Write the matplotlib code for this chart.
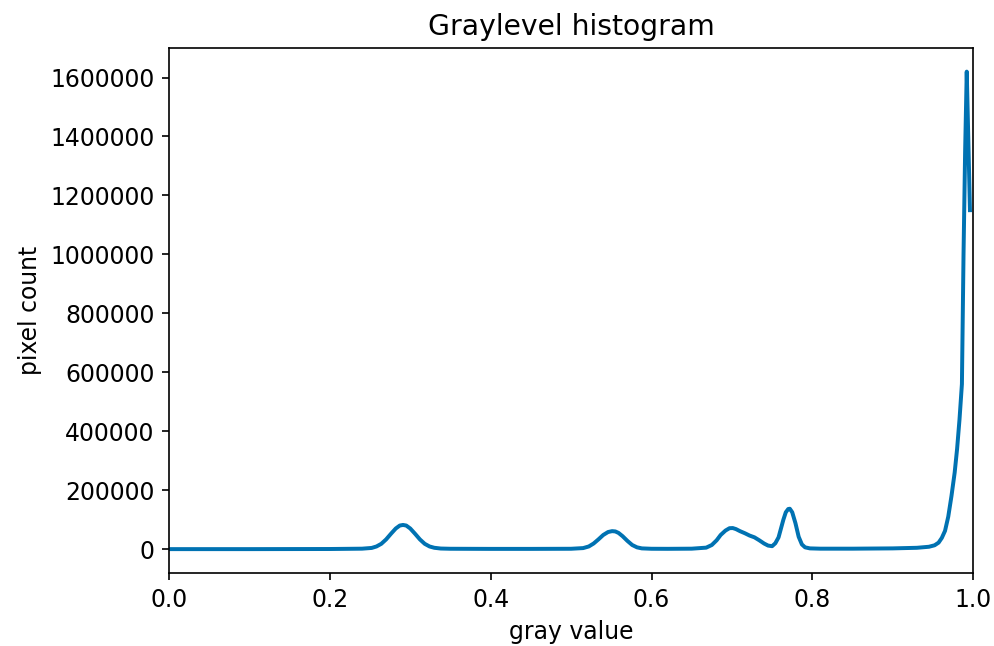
import numpy as np
import matplotlib
matplotlib.use("Agg")
import matplotlib.pyplot as plt

# gray level (bin centre) and pixel count
gray = [0.0, 0.05, 0.10, 0.15, 0.20, 0.24, 0.252, 0.258, 0.264, 0.270, 0.276, 0.282,
        0.287, 0.291, 0.295, 0.300, 0.306, 0.312, 0.318, 0.324, 0.330, 0.338, 0.35,
        0.40, 0.45, 0.50, 0.515, 0.522, 0.528, 0.534, 0.540, 0.546, 0.551, 0.555,
        0.559, 0.564, 0.570, 0.576, 0.582, 0.588, 0.60, 0.62, 0.65, 0.668, 0.675,
        0.681, 0.686, 0.692, 0.697, 0.701, 0.705, 0.710, 0.716, 0.722, 0.728, 0.734,
        0.740, 0.745, 0.750, 0.754, 0.758, 0.761, 0.764, 0.767, 0.770, 0.772, 0.775,
        0.779, 0.783, 0.787, 0.791, 0.797, 0.81, 0.85, 0.90, 0.93, 0.945, 0.952,
        0.957, 0.961, 0.965, 0.969, 0.973, 0.977, 0.980, 0.983, 0.986, 0.988,
        0.990, 0.992, 0.996]
count = [0, 0, 0, 200, 400, 1500, 4000, 9000, 18000, 33000, 52000, 70000,
         80000, 82000, 80000, 70000, 52000, 33000, 18000, 9000, 4500, 2000, 1200,
         800, 800, 1200, 3500, 9000, 19000, 33000, 48000, 58000, 61000, 60000,
         55000, 44000, 28000, 14000, 6000, 2500, 1200, 1000, 1500, 5000, 14000,
         30000, 48000, 63000, 71000, 71500, 68000, 61000, 54000, 46000, 40000, 30000,
         19000, 12000, 10000, 20000, 40000, 70000, 100000, 125000, 136000, 137000, 125000,
         88000, 42000, 16000, 6000, 2500, 1500, 1500, 2500, 4500, 8000, 13000,
         22000, 38000, 62000, 110000, 180000, 260000, 340000, 440000, 560000, 1000000,
         1350000, 1620000, 1150000]

plt.rcParams["font.size"] = 11.3

fig, ax = plt.subplots(figsize=(6.627, 4.307), dpi=150)
fig.subplots_adjust(left=0.170, right=0.979, bottom=0.113, top=0.926)

ax.plot(gray, count, color="#0072b2", linewidth=1.9)
ax.set_xlim(0, 1)
ax.ticklabel_format(axis="y", style="plain")
ax.set_title("Graylevel histogram")
ax.set_xlabel("gray value")
ax.set_ylabel("pixel count")

fig.savefig("out.png", dpi=150)
